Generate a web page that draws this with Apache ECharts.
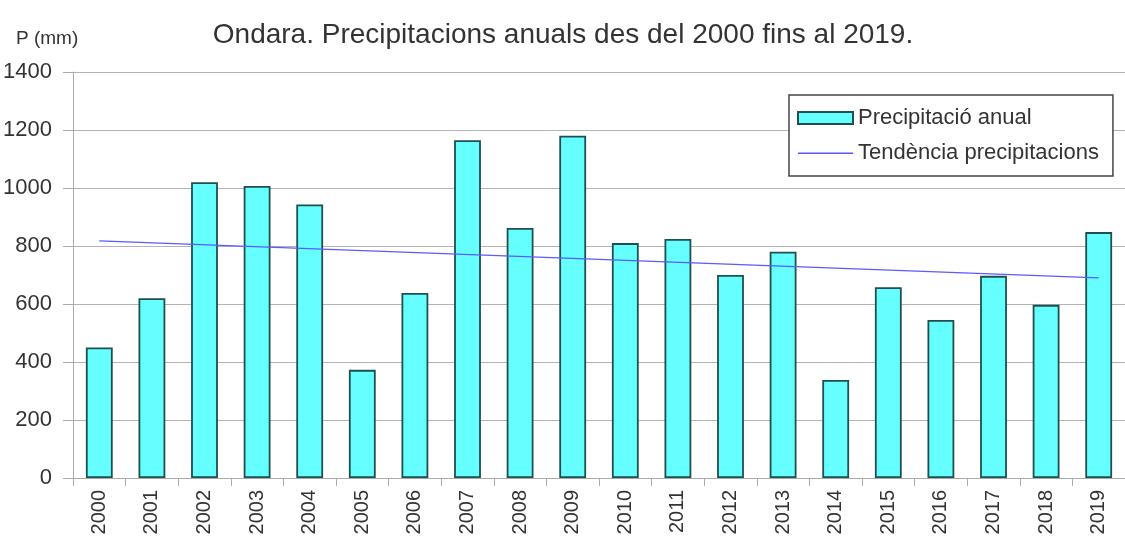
<!DOCTYPE html>
<html>
<head>
<meta charset="utf-8">
<script src="https://cdn.jsdelivr.net/npm/echarts@6/dist/echarts.min.js"></script>
<style>
  html, body { margin: 0; padding: 0; background: #fff; }
  #chart { width: 1125px; height: 547px; }
</style>
</head>
<body>
<div id="chart"></div>
<script>
// anys
const years = ["2000", "2001", "2002", "2003", "2004", "2005", "2006", "2007", "2008", "2009",
  "2010", "2011", "2012", "2013", "2014", "2015", "2016", "2017", "2018", "2019"];
// precipitació anual (mm)
const rain = [450, 620, 1020, 1007, 943, 373, 638, 1165, 862, 1180,
  810, 824, 700, 780, 338, 658, 545, 697, 597, 848];
// tendència: només els extrems llegits del gràfic
const trend = [818, null, null, null, null, null, null, null, null, null,
  null, null, null, null, null, null, null, null, null, 690];
const yTicks = [0, 200, 400, 600, 800, 1000, 1200, 1400];

const chart = echarts.init(document.getElementById("chart"));
const font = "Liberation Sans";

chart.setOption({
  backgroundColor: "#fff",
  animation: false,
  textStyle: { fontFamily: font },
  title: {
    text: "Ondara. Precipitacions anuals des del 2000 fins al 2019.",
    left: 558,
    textAlign: "center",
    top: 16,
    textStyle: { fontFamily: font, fontSize: 28, fontWeight: "normal", color: "#333" }
  },
  graphic: [
    {
      type: "text",
      left: 16,
      top: 29,
      style: { text: "P (mm)", fontFamily: font, fontSize: 19, fill: "#333" }
    }
  ],
  legend: {
    orient: "vertical",
    left: 789,
    top: 95,
    padding: [12, 14, 12, 8],
    itemGap: 13,
    itemWidth: 55,
    itemHeight: 12,
    backgroundColor: "#fff",
    borderColor: "#444",
    borderWidth: 1.5,
    textStyle: { fontFamily: font, fontSize: 22, color: "#333" },
    data: [
      { name: "Precipitació anual", icon: "rect" },
      { name: "Tendència precipitacions", icon: "path://M0,0M0,5.5H55V7H0ZM55,12" }
    ]
  },
  grid: { left: 73, width: 1058, top: 72, bottom: 69 },
  xAxis: {
    type: "category",
    data: years,
    axisLine: { lineStyle: { color: "#aaa" } },
    axisTick: { show: true, length: 8, lineStyle: { color: "#aaa" } },
    axisLabel: { rotate: 90, fontSize: 20, color: "#333", margin: 12, fontFamily: font }
  },
  yAxis: {
    type: "value",
    min: 0,
    max: 1400,
    interval: 200,
    axisLine: { show: true, lineStyle: { color: "#aaa" } },
    axisTick: { show: true, length: 10, lineStyle: { color: "#aaa" } },
    axisLabel: {
      fontSize: 22, color: "#333", margin: 21, fontFamily: font,
      formatter: v => (yTicks.indexOf(v) >= 0 ? String(v) : "")
    },
    splitLine: { lineStyle: { color: "#b3b3b3" } }
  },
  series: [
    {
      name: "Precipitació anual",
      type: "bar",
      data: rain,
      barWidth: "51%",
      itemStyle: { color: "#66ffff", borderColor: "#1f4f4f", borderWidth: 1.8 }
    },
    {
      name: "Tendència precipitacions",
      type: "line",
      data: trend,
      connectNulls: true,
      symbol: "none",
      itemStyle: { color: "#5a5aff" },
      lineStyle: { color: "#5a5aff", width: 1.3 },
      z: 3
    }
  ]
});
</script>
</body>
</html>
